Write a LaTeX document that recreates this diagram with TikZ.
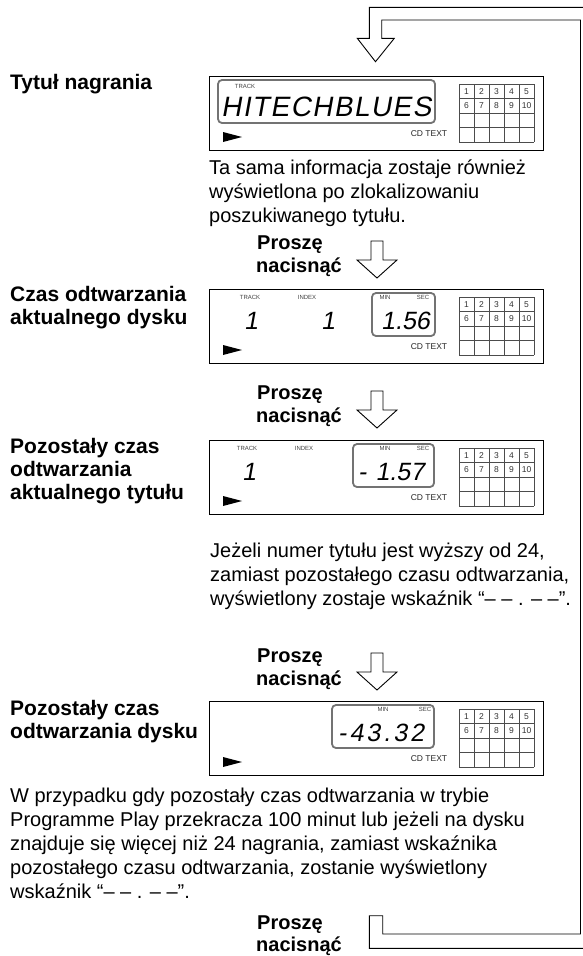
\documentclass[tikz,border=0pt]{standalone}
\usepackage{fontspec}
\setmainfont{Liberation Sans}
\newfontfamily\segfont[FakeSlant=0.18]{Liberation Sans}
\tikzset{
  lbl/.style={font=\bfseries\fontsize{21}{23}\selectfont, anchor=base west, inner sep=0pt},
  presslbl/.style={font=\bfseries\fontsize{20}{23}\selectfont, anchor=base west, inner sep=0pt},
  para/.style={font=\fontsize{20}{24}\selectfont, anchor=base west, inner sep=0pt},
  dispframe/.style={draw=black, line width=1.3pt},
  lcdwin/.style={draw=black!55, line width=1.8pt, rounded corners=4pt},
  tinylbl/.style={font=\fontsize{6}{6}\selectfont, text=black!75, inner sep=0pt, anchor=base},
  seg/.style={font=\segfont\fontsize{25}{25}\selectfont, inner sep=0pt, anchor=base west},
  gnum/.style={font=\fontsize{8.5}{8.5}\selectfont, text=black!80, inner sep=0pt},
  gridline/.style={draw=black!70, line width=0.7pt},
  blockarrow/.style={draw=black, line width=0.9pt, fill=white, line join=miter},
}
\newcommand{\lcdpanel}[2]{%
  \node[dispframe, minimum width=334pt, minimum height=74pt, anchor=north west, inner sep=0pt] (#2-box) at (209,#1) {};
  \fill (223,#1+56) -- (242,#1+61) -- (223,#1+66) -- cycle;
  \node[font=\fontsize{8.5}{8.5}\selectfont, text=black!85, inner sep=0pt, anchor=base] (#2-cd) at (429,#1+60) {CD TEXT};
  \foreach \i in {0,...,5} \draw[gridline] (459+15*\i,#1+8) -- (459+15*\i,#1+66);
  \foreach \j in {0,...,4} \draw[gridline] (459,#1+8+14.5*\j) -- (534,#1+8+14.5*\j);
  \foreach \n in {1,...,5} \node[gnum] (#2-n\n) at (451.5+15*\n,#1+15.5) {\n};
  \foreach \n in {6,...,10} \node[gnum] (#2-n\n) at (376.5+15*\n,#1+30) {\n};
}
\newcommand{\pressarrow}[1]{%
  \draw[blockarrow] (371,#1-37) -- (383,#1-37) -- (383,#1-18) -- (397,#1-18) -- (377,#1) -- (357,#1-18) -- (371,#1-18) -- cycle;
}
\begin{document}
\begin{tikzpicture}[x=1pt,y=-1pt]
\clip (0,0) rectangle (583,956);
\fill[white] (0,0) rectangle (583,956);

% loop arrow
\draw[blockarrow] (369.3,38.3) -- (369.3,7.3) -- (593.5,7.3) -- (593.5,948.3) -- (369.3,948.3) -- (369.3,915.7) -- (382.7,915.7) -- (382.7,934) -- (580.5,934) -- (580.5,20) -- (381.7,20) -- (381.7,38.3) -- (394.3,38.3) -- (375.5,61.7) -- (357.3,38.3) -- cycle;

% ---------- display 1
\node[lbl] (l1) at (10,89) {Tytuł nagrania};
\lcdpanel{76}{d1}
\draw[lcdwin] (218,80) rectangle (435,123);
\node[tinylbl] (d1-track) at (245,88) {TRACK};
\node[seg, font=\segfont\fontsize{28}{28}\selectfont\addfontfeatures{LetterSpace=5}] (d1-title) at (221,116) {HITECHBLUES};

\node[para] (p1a) at (209,174) {Ta sama informacja zostaje również};
\node[para] (p1b) at (209,198) {wyświetlona po zlokalizowaniu};
\node[para] (p1c) at (209,222) {poszukiwanego tytułu.};

\node[presslbl] (pr1) at (257,249) {Proszę};
\node[presslbl] (na1) at (256,272) {nacisnąć};
\pressarrow{278}

% ---------- display 2
\node[lbl] (l2a) at (10,301) {Czas odtwarzania};
\node[lbl] (l2b) at (10,324) {aktualnego dysku};
\lcdpanel{289}{d2}
\draw[lcdwin] (372,293) rectangle (435,336);
\node[tinylbl] (d2-track) at (250,299) {TRACK};
\node[tinylbl] (d2-index) at (307,299) {INDEX};
\node[tinylbl] (d2-min) at (385,299) {MIN};
\node[tinylbl] (d2-sec) at (423,299) {SEC};
\node[seg, anchor=base] (d2-t) at (251,329) {1};
\node[seg, anchor=base] (d2-i) at (328,329) {1};
\node[seg] (d2-time) at (381,329) {1.56};

\node[presslbl] (pr2) at (257,399) {Proszę};
\node[presslbl] (na2) at (256,422) {nacisnąć};
\pressarrow{428}

% ---------- display 3
\node[lbl] (l3a) at (10,453) {Pozostały czas};
\node[lbl] (l3b) at (10,476) {odtwarzania};
\node[lbl] (l3c) at (10,499) {aktualnego tytułu};
\lcdpanel{440}{d3}
\draw[lcdwin] (353,444) rectangle (434,487);
\node[tinylbl] (d3-track) at (247,450) {TRACK};
\node[tinylbl] (d3-index) at (304,450) {INDEX};
\node[tinylbl] (d3-min) at (385,450) {MIN};
\node[tinylbl] (d3-sec) at (423,450) {SEC};
\node[seg, anchor=base] (d3-t) at (249,480) {1};
\node[seg] (d3-time) at (358,480) {-\kern9pt1.57};

\node[para] (p2a) at (210,557) {Jeżeli numer tytułu jest wyższy od 24,};
\node[para] (p2b) at (210,581) {zamiast pozostałego czasu odtwarzania,};
\node[para] (p2c) at (210,605) {wyświetlony zostaje wskaźnik “– – . – –”.};

\node[presslbl] (pr3) at (257,662) {Proszę};
\node[presslbl] (na3) at (256,685) {nacisnąć};
\pressarrow{690}

% ---------- display 4
\node[lbl] (l4a) at (10,715) {Pozostały czas};
\node[lbl] (l4b) at (10,738) {odtwarzania dysku};
\lcdpanel{701}{d4}
\draw[lcdwin] (332,705) rectangle (434,748);
\node[tinylbl] (d4-min) at (383,711) {MIN};
\node[tinylbl] (d4-sec) at (425,711) {SEC};
\node[seg, font=\segfont\fontsize{25}{25}\selectfont\addfontfeatures{LetterSpace=12}] (d4-time) at (338,741) {-43.32};

\node[para] (p3a) at (10,802) {W przypadku gdy pozostały czas odtwarzania w trybie};
\node[para] (p3b) at (10,826) {Programme Play przekracza 100 minut lub jeżeli na dysku};
\node[para] (p3c) at (10,850) {znajduje się więcej niż 24 nagrania, zamiast wskaźnika};
\node[para] (p3d) at (10,874) {pozostałego czasu odtwarzania, zostanie wyświetlony};
\node[para] (p3e) at (10,898) {wskaźnik “– – . – –”.};

\node[presslbl] (pr4) at (257,929) {Proszę};
\node[presslbl] (na4) at (256,951) {nacisnąć};
\end{tikzpicture}
\end{document}
